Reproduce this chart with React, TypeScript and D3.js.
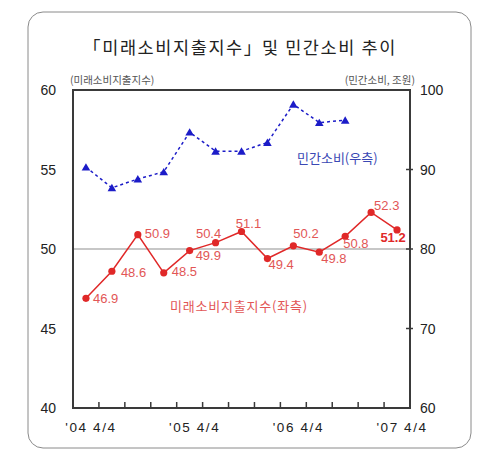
import React from 'react';
import * as d3 from 'd3';

// quarters, '04 4/4 .. '07 4/4
const quarters = [
  "04Q4", "05Q1", "05Q2", "05Q3", "05Q4", "06Q1", "06Q2",
  "06Q3", "06Q4", "07Q1", "07Q2", "07Q3", "07Q4",
];
const xTickLabels: Record<string, string> = {
  "04Q4": "'04 4/4",
  "05Q4": "'05 4/4",
  "06Q4": "'06 4/4",
  "07Q4": "'07 4/4",
};

// 미래소비지출지수 (left axis)
const indexValues = [46.9, 48.6, 50.9, 48.5, 49.9, 50.4, 51.1, 49.4, 50.2, 49.8, 50.8, 52.3, 51.2];
// 민간소비, 조원 (right axis)
const consumptionValues = [90.3, 87.7, 88.8, 89.7, 94.7, 92.3, 92.3, 93.4, 98.2, 95.9, 96.2];

const leftTicks = [40, 45, 50, 55, 60];
const rightTicks = [60, 70, 80, 90, 100];

// label placement (text offset from the point) for each index value
const labelOffsets: [number, number, string][] = [
  [7, 5, 'start'], [9, 6, 'start'], [7, 3, 'start'], [8, 3, 'start'],
  [6, 9, 'start'], [-7, -5, 'middle'], [7, -4, 'middle'], [1, 10, 'start'],
  [0, -8, 'start'], [2, 11, 'start'], [-2, 12, 'start'], [3, -2, 'start'],
  [-4, 12, 'middle'],
];

const W = 480;
const H = 465;
const plot = { left: 73, right: 410, top: 90, bottom: 408 };

const RED = '#e02828';
const RED_TEXT = '#e25656';
const BLUE = '#1c1cc8';
const BLUE_TEXT = '#3a48b4';
const NUM_FONT = '"Liberation Sans", Arial, "Noto Sans CJK KR", sans-serif';
const KR_FONT = '"Noto Sans CJK KR", "Liberation Sans", sans-serif';

export default function App() {
  const x = d3.scaleBand<string>().domain(quarters).range([plot.left, plot.right]);
  const cx = (i: number) => (x(quarters[i]) ?? 0) + x.bandwidth() / 2;
  const yL = d3.scaleLinear().domain([40, 60]).range([plot.bottom, plot.top]);
  const yR = d3.scaleLinear().domain([60, 100]).range([plot.bottom, plot.top]);

  const redLine = d3.line<number>().x((_, i) => cx(i)).y(d => yL(d));
  const blueLine = d3.line<number>().x((_, i) => cx(i)).y(d => yR(d));
  const tri = d3.symbol().type(d3.symbolTriangle).size(32)();

  return (
    <svg width={W} height={H} style={{ position: 'absolute', left: 0, top: 0, background: '#fff' }}>
      <rect x={28} y={12} width={443} height={436} rx={15} fill="#fff" stroke="#8a8a8a" strokeWidth={1} />

      <text x={W / 2} y={54} textAnchor="middle" fontFamily={KR_FONT} fontSize={17.5} letterSpacing={1.6} fill="#222">
        「미래소비지출지수」<tspan dx={-1}>및 민간소비 추이</tspan>
      </text>
      <text x={70} y={84} fontFamily={KR_FONT} fontSize={10.5} fill="#555">(미래소비지출지수)</text>
      <text x={415} y={84} textAnchor="end" fontFamily={KR_FONT} fontSize={10.5} fill="#555">(민간소비, 조원)</text>

      {/* reference line at 50 */}
      <line x1={plot.left} x2={plot.right} y1={yL(50)} y2={yL(50)} stroke="#b4b4b4" strokeWidth={1.5} />

      {/* plot frame */}
      <rect x={plot.left} y={plot.top} width={plot.right - plot.left} height={plot.bottom - plot.top}
        fill="none" stroke="#3a3a3a" strokeWidth={2} />

      {/* bottom ticks at quarter boundaries */}
      {quarters.slice(1).map(q => (
        <line key={q} x1={x(q)} x2={x(q)} y1={plot.bottom} y2={plot.bottom - 6} stroke="#3a3a3a" strokeWidth={1.5} />
      ))}
      {quarters.map((q, i) => xTickLabels[q] ? (
        <text key={q} x={cx(i) + 5} y={432} textAnchor="middle" fontFamily={NUM_FONT} fontSize={13.5}
          letterSpacing={1.6} fill="#222">{xTickLabels[q]}</text>
      ) : null)}

      {leftTicks.map(t => (
        <text key={t} x={56} y={yL(t) + 5} textAnchor="end" fontFamily={NUM_FONT} fontSize={14} fill="#222">{t}</text>
      ))}
      {rightTicks.map(t => (
        <g key={t}>
          {t > 60 && t < 100 && (
            <line x1={plot.right - 4} x2={plot.right + 3} y1={yR(t)} y2={yR(t)} stroke="#3a3a3a" strokeWidth={1.5} />
          )}
          <text x={420} y={yR(t) + 5} fontFamily={NUM_FONT} fontSize={14} fill="#222">{t}</text>
        </g>
      ))}

      {/* 민간소비 */}
      <path d={blueLine(consumptionValues) ?? ''} fill="none" stroke={BLUE} strokeWidth={1.5} strokeDasharray="3,3" />
      {consumptionValues.map((v, i) => (
        <path key={i} d={tri ?? ''} transform={`translate(${cx(i)},${yR(v) + 1})`} fill={BLUE} />
      ))}
      <text x={297} y={163} fontFamily={KR_FONT} fontSize={13} fill={BLUE_TEXT}>민간소비(우측)</text>

      {/* 미래소비지출지수 */}
      <path d={redLine(indexValues) ?? ''} fill="none" stroke={RED} strokeWidth={1.5} />
      {indexValues.map((v, i) => (
        <circle key={i} cx={cx(i)} cy={yL(v)} r={3.6} fill={RED} />
      ))}
      {indexValues.map((v, i) => {
        const [dx, dy, anchor] = labelOffsets[i];
        const last = i === indexValues.length - 1;
        return (
          <text key={i} x={cx(i) + dx} y={yL(v) + dy} textAnchor={anchor} fontFamily={NUM_FONT}
            fontSize={13} fontWeight={last ? 'bold' : 'normal'} fill={last ? RED : RED_TEXT}>
            {v.toFixed(1)}
          </text>
        );
      })}
      <text x={170} y={311} fontFamily={KR_FONT} fontSize={13} letterSpacing={0.8} fill={RED_TEXT}>미래소비지출지수(좌측)</text>
    </svg>
  );
}
